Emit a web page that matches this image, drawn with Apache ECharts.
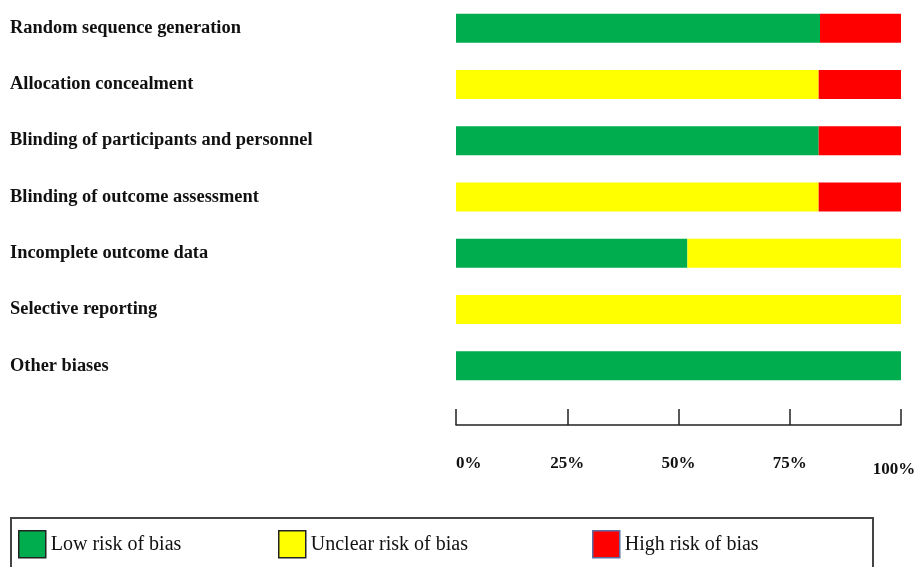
<!DOCTYPE html>
<html>
<head>
<meta charset="utf-8">
<script src="https://cdn.jsdelivr.net/npm/echarts@6/dist/echarts.min.js"></script>
<style>
html,body{margin:0;padding:0;background:#fff;overflow:hidden;}
#chart{width:917px;height:567px;}
</style>
</head>
<body>
<div id="chart"></div>
<script>
var categories = [
  'Random sequence generation',
  'Allocation concealment',
  'Blinding of participants and personnel',
  'Blinding of outcome assessment',
  'Incomplete outcome data',
  'Selective reporting',
  'Other biases'
];
var lowRisk     = [81.8, 0, 81.5, 0, 52, 0, 100];
var unclearRisk = [0, 81.5, 0, 81.5, 48, 100, 0];
var highRisk    = [18.2, 18.5, 18.5, 18.5, 0, 0, 0];
var xTicks = [0, 25, 50, 75, 100];
var seriesNames = ['Low risk of bias', 'Unclear risk of bias', 'High risk of bias'];
var colors = ['#00AD4E', '#FFFF00', '#FF0000'];

var chart = echarts.init(document.getElementById('chart'), null, {renderer: 'canvas', width: 917, height: 567});
var serif = '"Liberation Serif", "DejaVu Serif", serif';

function mkLegend(i, left, border) {
  return {
    show: true,
    left: left,
    top: 530,
    orient: 'horizontal',
    itemWidth: 27,
    itemHeight: 27,
    padding: 0,
    icon: 'rect',
    data: [{name: seriesNames[i], itemStyle: {borderColor: border, borderWidth: 1.5}}],
    textStyle: {fontFamily: serif, fontSize: 20, color: '#111'},
    selectedMode: false
  };
}

var option = {
  backgroundColor: '#fff',
  animation: false,
  grid: {left: 456, right: 16, top: 0, height: 394, containLabel: false, outerBoundsMode: 'none'},
  xAxis: {
    type: 'value',
    min: 0,
    max: 100,
    interval: 25,
    offset: 31,
    position: 'bottom',
    splitLine: {show: false},
    axisLine: {show: true, lineStyle: {color: '#222', width: 1.5}},
    axisTick: {show: true, inside: true, length: 16, lineStyle: {color: '#222', width: 1.5}},
    axisLabel: {
      margin: 30,
      fontFamily: serif,
      fontWeight: 'bold',
      fontSize: 17,
      color: '#111',
      alignMinLabel: 'left',
      formatter: function (v) {
        if (xTicks.indexOf(v) < 0) return '';
        if (v === 100) return '{m|' + v + '%}';
        return v + '%';
      },
      rich: {
        m: {fontFamily: serif, fontWeight: 'bold', fontSize: 17, color: '#111', padding: [6, 14, 0, 0]}
      }
    }
  },
  yAxis: {
    type: 'category',
    data: categories,
    inverse: true,
    axisLine: {show: false},
    axisTick: {show: false},
    axisLabel: {
      align: 'left',
      margin: 446,
      fontFamily: serif,
      fontWeight: 'bold',
      fontSize: 18.4,
      color: '#111'
    }
  },
  legend: [
    mkLegend(0, 18, '#222'),
    mkLegend(1, 278, '#222'),
    mkLegend(2, 592, '#5a6fa8')
  ],
  graphic: [{
    type: 'rect',
    shape: {x: 11, y: 518, width: 862, height: 70},
    style: {fill: 'none', stroke: '#444', lineWidth: 2},
    silent: true
  }],
  series: [
    {name: seriesNames[0], type: 'bar', stack: 'rob', data: lowRisk, barWidth: 29, itemStyle: {color: colors[0]}},
    {name: seriesNames[1], type: 'bar', stack: 'rob', data: unclearRisk, barWidth: 29, itemStyle: {color: colors[1]}},
    {name: seriesNames[2], type: 'bar', stack: 'rob', data: highRisk, barWidth: 29, itemStyle: {color: colors[2]}}
  ]
};
chart.setOption(option);
</script>
</body>
</html>
